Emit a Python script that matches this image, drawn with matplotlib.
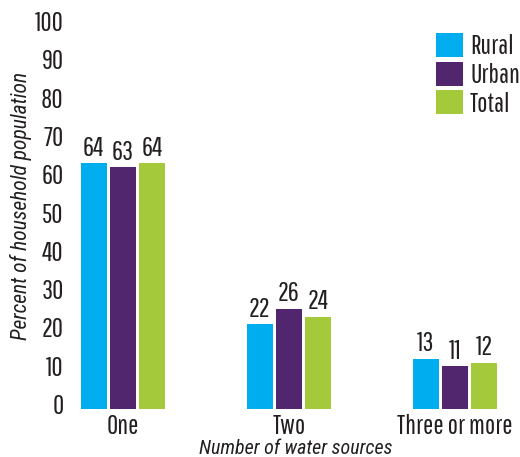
#!/usr/bin/env python3
"""
Grouped bar chart: household population by number of water sources.
"""
import numpy as np
import matplotlib
matplotlib.use('Agg')
import matplotlib.pyplot as plt
import matplotlib.transforms as mtransforms
from matplotlib import font_manager as fm

# data
categories = ['One', 'Two', 'Three or more']
series_names = ['Rural', 'Urban', 'Total']
rural = [64, 22, 13]
urban = [63, 26, 11]
total = [64, 24, 12]
yticks = [0, 10, 20, 30, 40, 50, 60, 70, 80, 90, 100]

colors = ['#00AEEF', '#52266F', '#A4C93A']
txt = '#231F20'

# condensed faces: plain text and italic axis titles
names = {f.name for f in fm.fontManager.ttflist}
plain = [n for n in ['Pathway Gothic One', 'Roboto Condensed'] if n in names]
slant = [n for n in ['Roboto Condensed', 'Archivo Narrow'] if n in names]
plt.rcParams['font.family'] = plain + ['DejaVu Sans']
ital_family = slant + ['DejaVu Sans']
fs = 19.5

fig = plt.figure(figsize=(5.2, 4.57), dpi=100)
ax = fig.add_axes([0.125, 0.106, 0.8615, 0.838])

x = np.arange(len(categories))
w = 0.157
step = 0.177
for i, (vals, name) in enumerate(zip([rural, urban, total], series_names)):
    bars = ax.bar(x + (i - 1) * step, vals, width=w, color=colors[i],
                  label=name, edgecolor='none')
    ax.bar_label(bars, labels=[str(v) for v in vals], padding=2,
                 fontsize=fs, color=txt)

ax.set_xlim(-0.35, 2.35)
ax.set_ylim(0, 100)
ax.set_yticks(yticks)
ax.set_yticklabels([str(t) for t in yticks], fontsize=fs, color=txt)
ax.set_xticks(x)
ax.set_xticklabels(categories, fontsize=fs, color=txt)
ax.tick_params(axis='x', length=0, pad=4)
ax.tick_params(axis='y', length=0, pad=1)
for s in ax.spines.values():
    s.set_visible(False)

# y labels sit a little high in the original
off = mtransforms.ScaledTranslation(0, 0.045, fig.dpi_scale_trans)
for lab in ax.get_yticklabels():
    lab.set_transform(lab.get_transform() + off)

ax.set_ylabel('Percent of household population', fontsize=15.5,
              family=ital_family, style='italic', color=txt)
ax.yaxis.set_label_coords(-0.073, 0.53)
ax.set_xlabel('Number of water sources', fontsize=14.4, family=ital_family,
              style='italic', color=txt)
ax.xaxis.set_label_coords(0.515, -0.08)

leg = fig.legend(loc='upper left', bbox_to_anchor=(436 / 520, 1 - 33 / 457),
                 frameon=False, fontsize=fs, handlelength=1.0,
                 handleheight=1.0, labelspacing=0.08, handletextpad=0.26,
                 borderpad=0, borderaxespad=0)
for t in leg.get_texts():
    t.set_color(txt)

fig.savefig('out.png', dpi=100)
